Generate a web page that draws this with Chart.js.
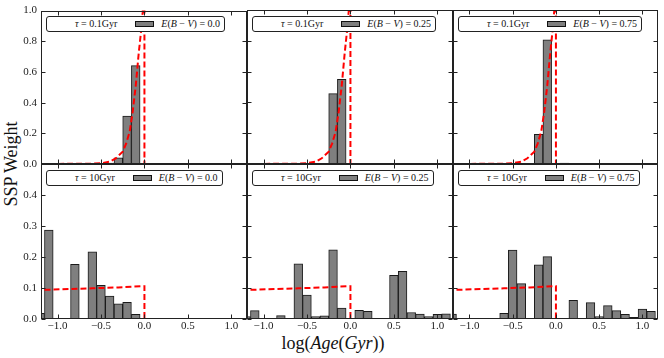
<!DOCTYPE html>
<html>
<head>
<meta charset="utf-8">
<script src="https://cdn.jsdelivr.net/npm/chart.js@4.4.1/dist/chart.umd.min.js"></script>
<style>
  html, body { margin: 0; padding: 0; background: #fff; }
  #wrap { position: relative; width: 664px; height: 358px; overflow: hidden; font-family: "Liberation Serif", serif; color: #111; }
  #wrap canvas { position: absolute; left: 0; top: 0; }
  .leg { position: absolute; box-sizing: border-box; height: 16px; border: 1px solid #222; border-radius: 3px; background: #fff;
         display: flex; align-items: center; font-size: 10px; padding: 0 4px 0 28px; white-space: nowrap; }
  .leg .sw { display: inline-block; width: 17px; height: 4px; border: 1px solid #111; background: #7f7f7f; margin: 0 7px 0 18px; }
  .ytitle { position: absolute; left: 11px; top: 164px; transform: translate(-50%, -50%) rotate(-90deg); font-size: 18px; white-space: nowrap; }
  .xtitle { position: absolute; left: 333px; top: 343px; transform: translate(-50%, -50%); font-size: 18px; white-space: nowrap; }
</style>
</head>
<body>
<div id="wrap">
  <div class="ytitle">SSP Weight</div>
  <div class="xtitle">log(<i>Age</i>(<i>Gyr</i>))</div>
</div>
<script>
// bin centres in log(Age/Gyr)
const bins = [-1.2, -1.1, -1.0, -0.9, -0.8, -0.7, -0.6, -0.5, -0.4, -0.3, -0.2, -0.1,
              0.0, 0.1, 0.2, 0.3, 0.4, 0.5, 0.6, 0.7, 0.8, 0.9, 1.0, 1.1];

// SSP weights, tau = 0.1 Gyr
const wShortE000 = [0, 0, 0, 0, 0, 0, 0, 0, 0.006, 0.04, 0.313, 0.641, 0, 0, 0, 0, 0, 0, 0, 0, 0, 0, 0, 0];
const wShortE025 = [0, 0, 0, 0, 0, 0, 0, 0, 0, 0, 0.457, 0.55, 0, 0, 0, 0, 0, 0, 0, 0, 0, 0, 0, 0];
const wShortE075 = [0, 0, 0, 0, 0, 0, 0, 0, 0, 0, 0.193, 0.807, 0, 0.006, 0, 0, 0, 0, 0, 0, 0, 0, 0, 0];

// SSP weights, tau = 10 Gyr
const wLongE000 = [0.018, 0.287, 0, 0, 0.176, 0, 0.217, 0.109, 0.074, 0.049, 0.054, 0.015, 0, 0, 0, 0, 0, 0, 0, 0, 0, 0, 0, 0];
const wLongE025 = [0.008, 0.027, 0, 0, 0.011, 0, 0.178, 0.077, 0.008, 0.01, 0.223, 0.035, 0, 0.028, 0.025, 0, 0.002, 0.141, 0.154, 0.021, 0.016, 0.008, 0.015, 0.017];
const wLongE075 = [0.016, 0, 0, 0, 0, 0, 0.018, 0.222, 0.114, 0, 0.175, 0.201, 0, 0, 0.06, 0, 0.053, 0.008, 0.043, 0.027, 0.015, 0.005, 0.032, 0.025];

// input star formation histories (red dashed)
const sfhShortX = [-1.2, -0.6, -0.5, -0.4, -0.33, -0.25, -0.21, -0.17, -0.135, -0.1, -0.066, -0.04, -0.02, -0.005, 0.0, 0.0];
const sfhShortY = [0, 0.002, 0.005, 0.015, 0.037, 0.08, 0.134, 0.21, 0.34, 0.51, 0.72, 0.86, 0.99, 1.2, 1.2, 0];
const sfhLongX = [-1.15, -0.6, -0.3, -0.01, 0.0, 0.0];
const sfhLongY = [0.094, 0.099, 0.102, 0.106, 0.106, 0];

// tick labels
const xTicks = [-1.0, -0.5, 0.0, 0.5, 1.0];
const yTicksTop = [0.0, 0.2, 0.4, 0.6, 0.8, 1.0];
const yTicksBottom = [0.0, 0.1, 0.2, 0.3, 0.4];

const tauLabels = ['0.1', '10'];
const ebvLabels = ['0.0', '0.25', '0.75'];

const W = 664, H = 358;
const colEdges = [41, 247, 453, 658];
const rowEdges = [10, 164, 319];
const Y_AXIS_W = 36;   // room for y tick labels (left column only)
const X_AXIS_H = 20;   // room for x tick labels (bottom row only)

const FONT = '"Liberation Serif", serif';

function fmt(v) {
  return v.toFixed(1).replace('-', '\u2212');
}

// frame + inward ticks on every side, like the matplotlib axes
const framePlugin = {
  id: 'frame',
  afterDraw(chart) {
    const ctx = chart.ctx;
    const a = chart.chartArea;
    const xs = chart.scales.x, ys = chart.scales.y;
    const L = Math.round(a.left) + 0.5, R = Math.round(a.right) - 0.5;
    const T = Math.round(a.top) + 0.5, B = Math.round(a.bottom) - 0.5;
    ctx.save();
    ctx.strokeStyle = '#222';
    ctx.lineWidth = 1;
    ctx.strokeRect(L, T, R - L, B - T);
    ctx.beginPath();
    xs.ticks.forEach(t => {
      const px = Math.round(xs.getPixelForValue(t.value)) + 0.5;
      ctx.moveTo(px, B); ctx.lineTo(px, B - 4);
      ctx.moveTo(px, T); ctx.lineTo(px, T + 4);
    });
    ys.ticks.forEach(t => {
      const py = Math.round(ys.getPixelForValue(t.value)) + 0.5;
      ctx.moveTo(L, py); ctx.lineTo(L + 4, py);
      ctx.moveTo(R, py); ctx.lineTo(R - 4, py);
    });
    ctx.stroke();
    ctx.restore();
  }
};

function makePanel(row, col, weights, sfhX, sfhY) {
  const wrap = document.getElementById('wrap');
  const canvas = document.createElement('canvas');
  canvas.width = W; canvas.height = H;
  canvas.style.width = W + 'px'; canvas.style.height = H + 'px';
  wrap.appendChild(canvas);

  const left = colEdges[col], right = colEdges[col + 1];
  const top = rowEdges[row], bottom = rowEdges[row + 1];
  const yMax = row === 0 ? 1.0 : 0.5;
  const yTicks = row === 0 ? yTicksTop : yTicksBottom;
  const showX = row === 1, showY = col === 0;
  const yw = showY ? Y_AXIS_W : 0;
  const xh = showX ? X_AXIS_H : 0;

  const barPts = [];
  bins.forEach((x, i) => { if (weights[i] > 0) barPts.push({ x: x, y: weights[i] }); });
  const linePts = sfhX.map((x, i) => ({ x: x, y: sfhY[i] }));

  new Chart(canvas.getContext('2d'), {
    type: 'bar',
    data: {
      datasets: [
        {
          type: 'line',
          data: linePts,
          borderColor: '#ff0000',
          borderWidth: 2,
          borderDash: [6, 3],
          pointRadius: 0,
          tension: 0,
          fill: false,
          order: 0
        },
        {
          type: 'bar',
          data: barPts,
          backgroundColor: '#7f7f7f',
          borderColor: '#1a1a1a',
          borderWidth: 1,
          barPercentage: 1.0,
          categoryPercentage: 1.0,
          order: 1
        }
      ]
    },
    options: {
      responsive: false,
      animation: false,
      devicePixelRatio: 1,
      layout: { padding: { left: left - yw, top: top, right: W - right, bottom: H - bottom - xh } },
      plugins: { legend: { display: false }, tooltip: { enabled: false } },
      scales: {
        x: {
          type: 'linear',
          min: -1.19,
          max: 1.18,
          offset: false,
          afterBuildTicks: s => { s.ticks = xTicks.map(v => ({ value: v })); },
          afterFit: s => { s.height = xh; },
          grid: { display: false, drawTicks: false },
          border: { display: false },
          ticks: {
            display: showX,
            maxRotation: 0,
            autoSkip: false,
            padding: 1,
            color: '#222',
            font: { family: FONT, size: 11 },
            callback: v => fmt(v)
          }
        },
        y: {
          type: 'linear',
          min: 0,
          max: yMax,
          afterBuildTicks: s => { s.ticks = yTicks.map(v => ({ value: v })); },
          afterFit: s => { s.width = yw; },
          grid: { display: false, drawTicks: false },
          border: { display: false },
          ticks: {
            display: showY,
            autoSkip: false,
            padding: 4,
            color: '#222',
            font: { family: FONT, size: 11 },
            callback: v => fmt(v)
          }
        }
      }
    },
    plugins: [framePlugin]
  });

  // legend box in the upper left of the panel
  const leg = document.createElement('div');
  leg.className = 'leg';
  leg.style.left = (left + 5) + 'px';
  leg.style.top = (top + 5.5) + 'px';
  leg.innerHTML = '<span><i>\u03c4</i> = ' + tauLabels[row] + 'Gyr</span><span class="sw"></span>' +
                  '<span><i>E</i>(<i>B</i> \u2212 <i>V</i>) = ' + ebvLabels[col] + '</span>';
  wrap.appendChild(leg);
}

makePanel(0, 0, wShortE000, sfhShortX, sfhShortY);
makePanel(0, 1, wShortE025, sfhShortX, sfhShortY);
makePanel(0, 2, wShortE075, sfhShortX, sfhShortY);
makePanel(1, 0, wLongE000, sfhLongX, sfhLongY);
makePanel(1, 1, wLongE025, sfhLongX, sfhLongY);
makePanel(1, 2, wLongE075, sfhLongX, sfhLongY);
</script>
</body>
</html>
